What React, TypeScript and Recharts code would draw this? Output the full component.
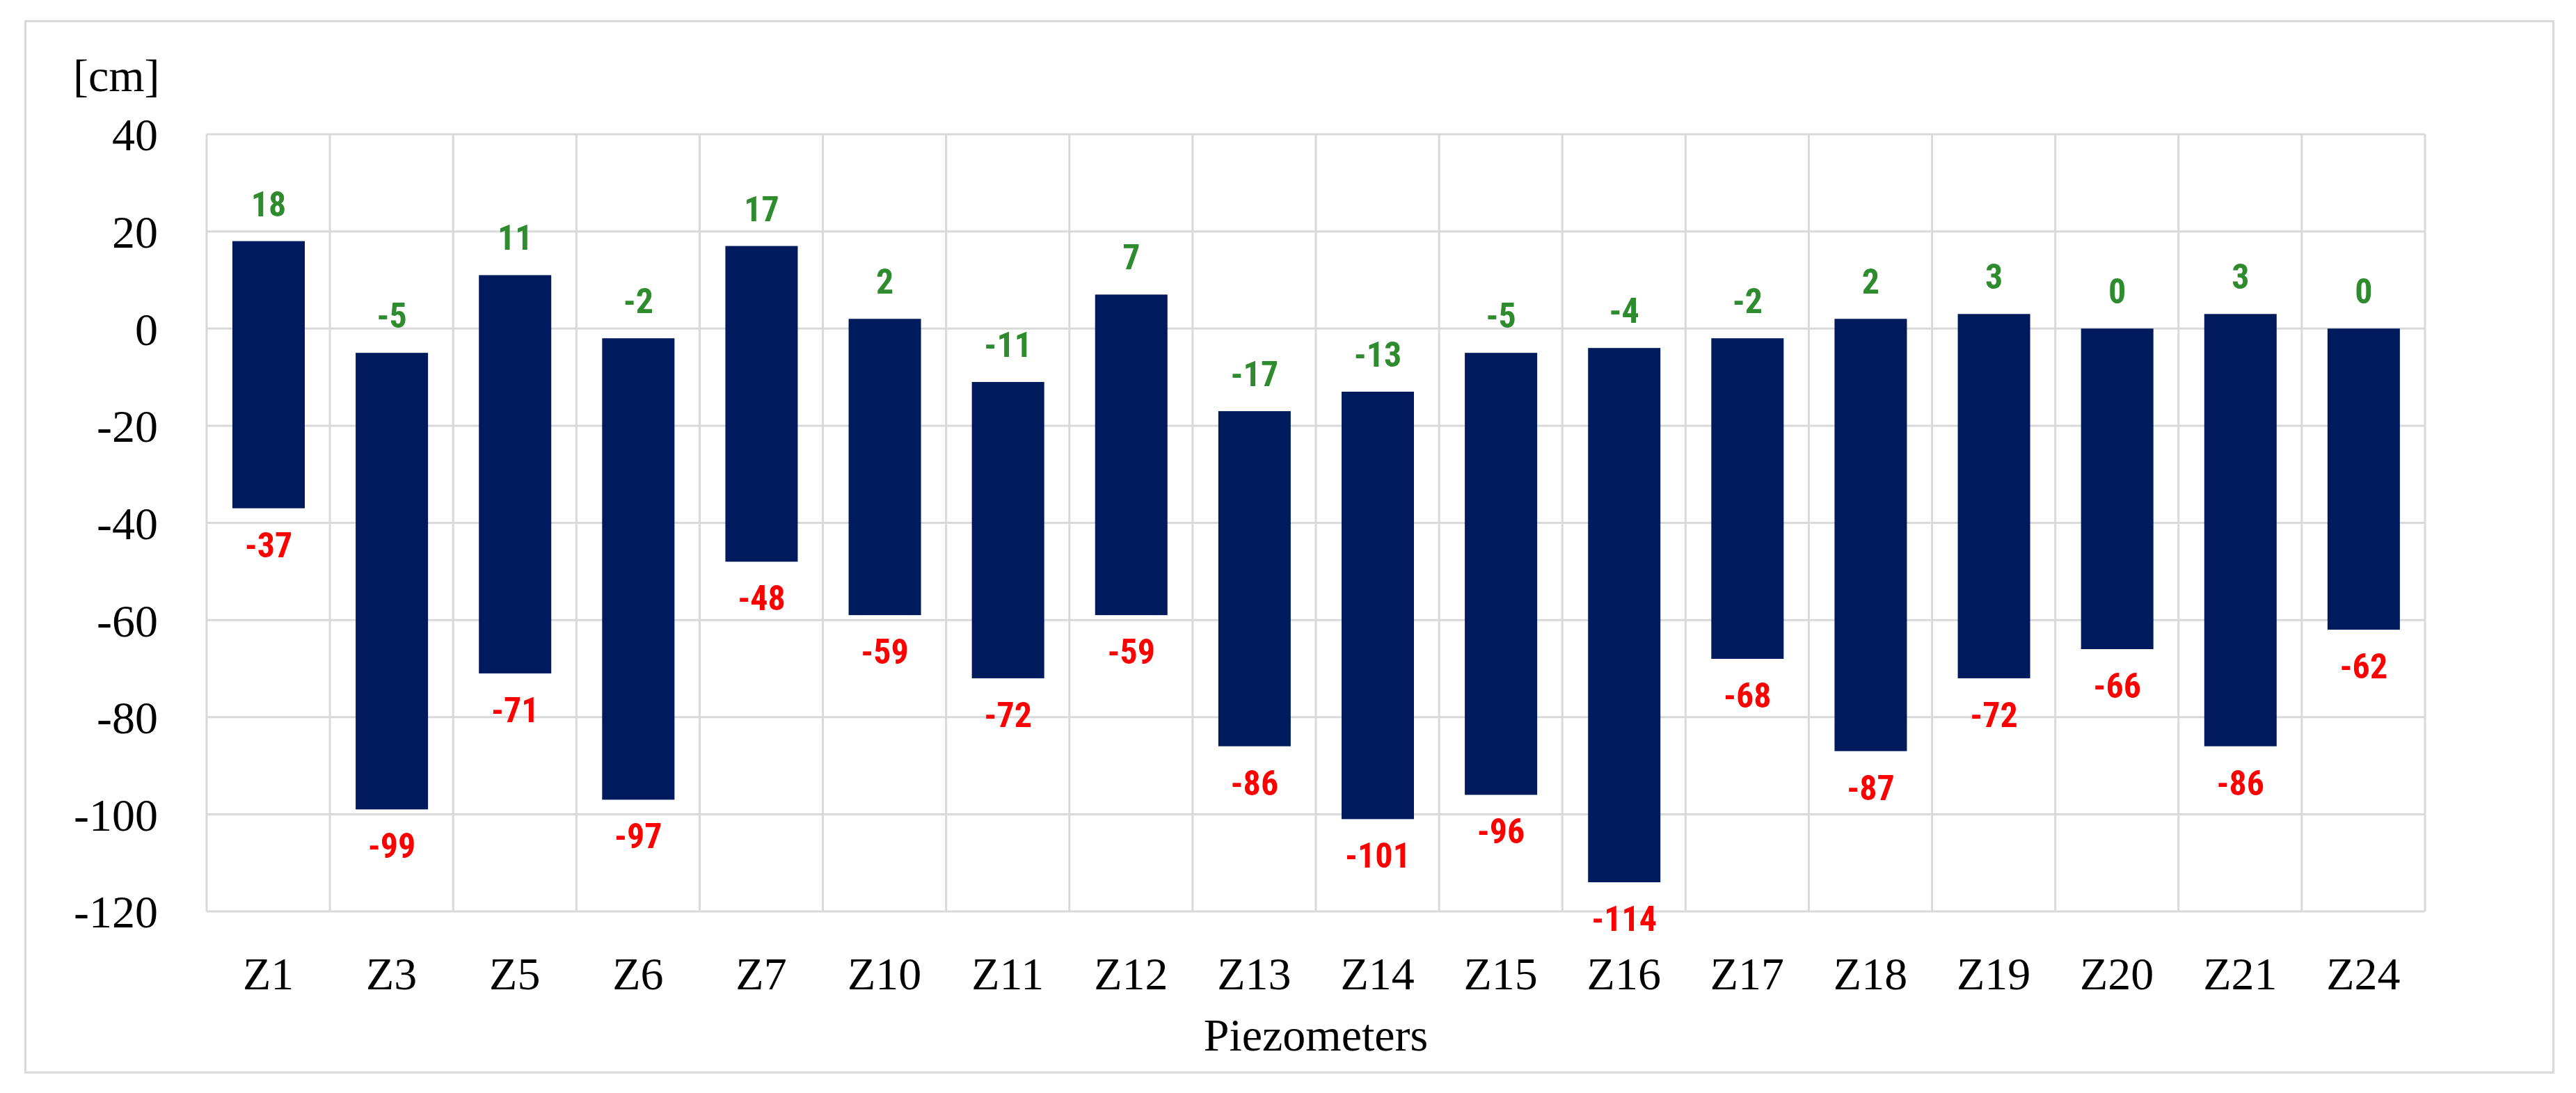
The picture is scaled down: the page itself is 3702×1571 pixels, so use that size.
import React from "react";
import { BarChart, Bar, XAxis, YAxis, CartesianGrid } from "recharts";

// Piezometer water level fluctuation range [cm]
const piezometers = ["Z1", "Z3", "Z5", "Z6", "Z7", "Z10", "Z11", "Z12", "Z13", "Z14", "Z15", "Z16", "Z17", "Z18", "Z19", "Z20", "Z21", "Z24"];
const maxLevels = [18, -5, 11, -2, 17, 2, -11, 7, -17, -13, -5, -4, -2, 2, 3, 0, 3, 0];
const minLevels = [-37, -99, -71, -97, -48, -59, -72, -59, -86, -101, -96, -114, -68, -87, -72, -66, -86, -62];
const yTicks = [40, 20, 0, -20, -40, -60, -80, -100, -120];

const data = piezometers.map((name, i) => ({
  name,
  max: maxLevels[i],
  min: minLevels[i],
  range: [minLevels[i], maxLevels[i]],
}));

const serif = "'Liberation Serif', 'Times New Roman', serif";
const labelFont = "'Liberation Sans Narrow', 'Arial Narrow', 'Roboto Condensed', Lato, sans-serif";

const RangeShape = (props: any) => {
  const { x, y, width, height, payload } = props;
  const top = Math.min(y, y + height);
  const bottom = Math.max(y, y + height);
  const cx = x + width / 2;
  return (
    <g>
      <rect x={x} y={top} width={width} height={bottom - top} fill="#001a5e" />
      <text x={cx} y={top - 53} textAnchor="middle" dominantBaseline="central" fill="#2e8b2e" fontFamily={labelFont} fontWeight="bold" fontSize={50}>
        {payload.max}
      </text>
      <text x={cx} y={bottom + 53} textAnchor="middle" dominantBaseline="central" fill="#ff0000" fontFamily={labelFont} fontWeight="bold" fontSize={50}>
        {payload.min}
      </text>
    </g>
  );
};

const App: React.FC = () => {
  return (
    <div style={{ position: "absolute", left: 0, top: 0, width: 3702, height: 1571, background: "#fff" }}>
      <div
        style={{
          position: "absolute",
          left: 35,
          top: 29,
          width: 3630,
          height: 1508,
          border: "3px solid #d9d9d9",
        }}
      />
      <BarChart
        width={3702}
        height={1571}
        data={data}
        margin={{ top: 193, right: 217, left: 197, bottom: 0 }}
        style={{ position: "absolute", left: 0, top: 0 }}
      >
        <CartesianGrid
          stroke="#d9d9d9"
          strokeWidth={3}
          verticalCoordinatesGenerator={({ offset }: any) =>
            Array.from({ length: piezometers.length + 1 }, (_, i) => offset.left + (i * offset.width) / piezometers.length)
          }
        />
        <XAxis
          dataKey="name"
          height={261}
          axisLine={false}
          tickLine={false}
          tickSize={0}
          tickMargin={65}
          interval={0}
          tick={{ fill: "#000", fontFamily: serif, fontSize: 66 }}
          label={{ value: "Piezometers", position: "insideTop", offset: 153, fill: "#000", fontFamily: serif, fontSize: 66 }}
        />
        <YAxis
          width={100}
          domain={[-120, 40]}
          ticks={yTicks}
          axisLine={false}
          tickLine={false}
          tickSize={0}
          tickMargin={70}
          tick={{ fill: "#000", fontFamily: serif, fontSize: 66 }}
          label={{
            content: ({ viewBox }: any) => (
              <text x={viewBox.x - 92} y={viewBox.y - 85} fill="#000" fontFamily={serif} fontSize={66} dominantBaseline="central">
                [cm]
              </text>
            ),
          }}
        />
        <Bar dataKey="range" barSize={104} shape={RangeShape} isAnimationActive={false} />
      </BarChart>
    </div>
  );
};

export default App;
